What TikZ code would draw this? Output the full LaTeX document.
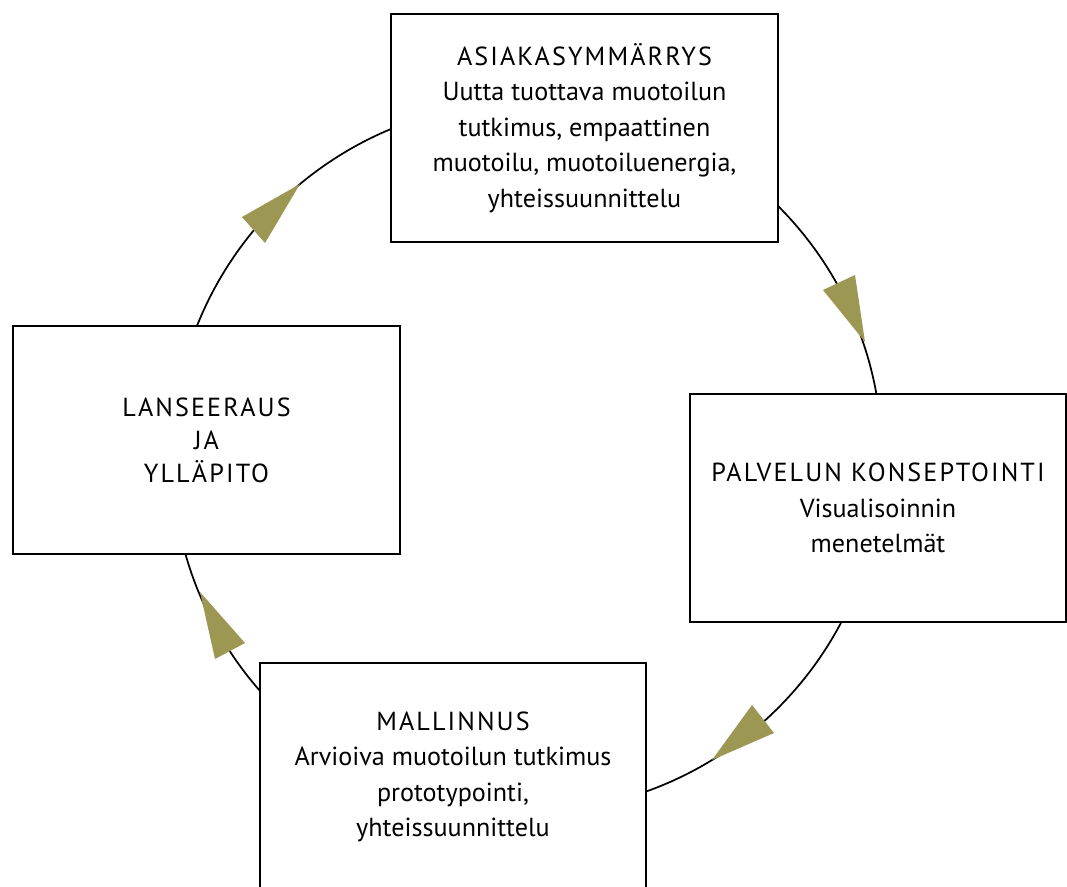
\documentclass[tikz,border=0pt]{standalone}
\usepackage{fontspec}
\setmainfont{PT Sans}
\definecolor{arrowolive}{RGB}{157,151,84}
\newcommand{\ttl}[1]{{\addfontfeatures{LetterSpace=8}#1}}
\begin{document}
\begin{tikzpicture}[x=0.75pt,y=-0.75pt,
  stage/.style={draw=black, line width=1.5pt, fill=white, minimum width=290pt,
    minimum height=171pt, align=center, inner sep=0pt,
    font=\fontsize{19.6}{26.6}\selectfont},
  cyc/.style={line width=1.3pt},
  tri/.style={fill=arrowolive}]
\clip (0,0) rectangle (1067,887);
\coordinate (c) at (527,457);
\draw[cyc] (c) circle[radius=266.25pt];
\node[stage] (asiakas) at (584.5,128) {\ttl{ASIAKASYMMÄRRYS}\\Uutta tuottava muotoilun\\tutkimus, empaattinen\\muotoilu, muotoiluenergia,\\yhteissuunnittelu};
\node[stage, font=\fontsize{19.6}{24.75}\selectfont] (lanseeraus) at (206.5,440) {\ttl{LANSEERAUS}\\\ttl{JA}\\\ttl{YLLÄPITO}};
\node[stage, minimum width=282pt] (palvelu) at (878,508) {\ttl{PALVELUN KONSEPTOINTI}\\Visualisoinnin\\menetelmät};
\node[stage] (mallinnus) at (453,777) {\ttl{MALLINNUS}\\Arvioiva muotoilun tutkimus\\prototypointi,\\yhteissuunnittelu};
\fill[tri] (300,184) -- (242,217) -- (265,243) -- cycle;
\fill[tri] (865,342) -- (823,290) -- (855,275) -- cycle;
\fill[tri] (712,760) -- (752,705) -- (774,733) -- cycle;
\fill[tri] (200,592) -- (245,643) -- (215,659) -- cycle;
\end{tikzpicture}
\end{document}
